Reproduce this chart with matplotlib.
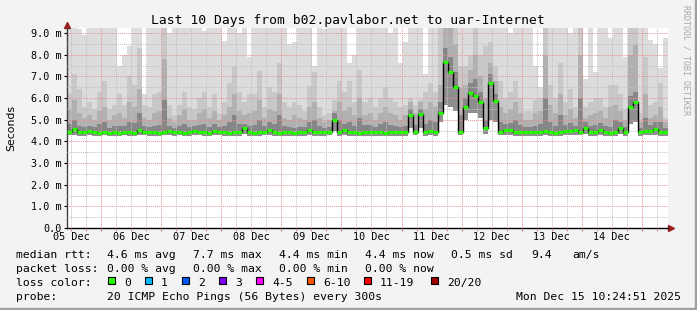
import numpy as np
import matplotlib
matplotlib.use("Agg")
import matplotlib.pyplot as plt
import matplotlib.transforms as mtransforms
from matplotlib.patches import Rectangle
from matplotlib.ticker import MultipleLocator, FuncFormatter

# ---- data (ms), one value per 2 h column, 05 Dec 10:24 -> 15 Dec 10:24 ----
med = [4.45, 4.58, 4.45, 4.42, 4.47, 4.42, 4.40, 4.45, 4.38, 4.42,
       4.40, 4.45, 4.42, 4.40, 4.52, 4.45, 4.42, 4.43, 4.40, 4.45,
       4.47, 4.42, 4.45, 4.40, 4.42, 4.48, 4.45, 4.42, 4.40, 4.47,
       4.45, 4.42, 4.40, 4.42, 4.42, 4.60, 4.42, 4.40, 4.42, 4.45,
       4.52, 4.42, 4.40, 4.42, 4.42, 4.38, 4.42, 4.42, 4.52, 4.42,
       4.42, 4.42, 4.45, 5.00, 4.42, 4.55, 4.42, 4.42, 4.40, 4.42,
       4.42, 4.42, 4.42, 4.40, 4.42, 4.42, 4.42, 4.42, 5.20, 4.45,
       5.25, 4.42, 4.48, 4.42, 5.30, 7.65, 7.20, 6.50, 4.45, 5.60,
       6.25, 6.10, 5.80, 4.60, 6.70, 5.85, 4.45, 4.55, 4.52, 4.42,
       4.42, 4.42, 4.42, 4.42, 4.42, 4.48, 4.42, 4.40, 4.42, 4.50,
       4.50, 4.55, 4.45, 4.60, 4.42, 4.42, 4.55, 4.42, 4.38, 4.42,
       4.60, 4.42, 5.60, 5.80, 4.42, 4.50, 4.50, 4.58, 4.42, 4.42]

low = [4.28, 4.30, 4.27, 4.26, 4.28, 4.27, 4.25, 4.28, 4.24, 4.27,
       4.26, 4.28, 4.27, 4.25, 4.30, 4.28, 4.27, 4.27, 4.25, 4.28,
       4.29, 4.27, 4.28, 4.25, 4.27, 4.30, 4.28, 4.27, 4.25, 4.29,
       4.28, 4.27, 4.25, 4.27, 4.27, 4.32, 4.27, 4.25, 4.27, 4.28,
       4.30, 4.27, 4.25, 4.27, 4.27, 4.24, 4.27, 4.27, 4.30, 4.27,
       4.27, 4.27, 4.28, 4.50, 4.27, 4.30, 4.27, 4.27, 4.25, 4.27,
       4.27, 4.27, 4.27, 4.25, 4.27, 4.27, 4.27, 4.27, 4.60, 4.28,
       4.60, 4.27, 4.29, 4.27, 4.90, 5.70, 5.60, 5.40, 4.30, 5.00,
       5.30, 5.30, 5.10, 4.35, 5.00, 4.90, 4.28, 4.30, 4.29, 4.27,
       4.27, 4.27, 4.27, 4.27, 4.27, 4.29, 4.27, 4.25, 4.27, 4.28,
       4.28, 4.30, 4.28, 4.32, 4.27, 4.27, 4.30, 4.27, 4.24, 4.27,
       4.32, 4.27, 4.80, 4.90, 4.27, 4.28, 4.28, 4.30, 4.27, 4.27]

hi1 = [4.80, 5.00, 4.70, 4.65, 4.70, 4.65, 4.80, 4.90, 4.60, 4.70,
       4.70, 4.70, 4.90, 4.85, 5.30, 4.70, 4.65, 4.70, 4.75, 5.90,
       4.70, 4.60, 4.70, 4.80, 4.65, 4.70, 4.75, 4.80, 4.65, 4.80,
       4.65, 4.70, 4.90, 5.20, 4.80, 4.80, 4.70, 4.75, 5.00, 4.70,
       4.90, 4.80, 5.20, 4.70, 4.65, 4.60, 4.65, 4.65, 4.90, 5.00,
       4.70, 4.60, 4.65, 5.30, 5.00, 4.80, 4.90, 4.70, 5.10, 4.75,
       4.75, 4.65, 4.80, 4.90, 4.75, 4.70, 4.65, 4.70, 5.50, 4.75,
       5.50, 4.80, 5.00, 4.90, 5.80, 8.30, 7.90, 7.20, 5.20, 6.00,
       6.70, 6.90, 6.30, 5.00, 7.10, 6.20, 4.90, 4.80, 4.85, 5.00,
       4.75, 4.65, 4.65, 4.70, 4.80, 6.00, 4.90, 4.70, 5.20, 4.75,
       4.85, 4.70, 6.00, 4.90, 4.70, 4.75, 4.85, 4.70, 4.65, 5.00,
       4.90, 4.65, 6.10, 6.30, 4.60, 5.10, 4.75, 4.90, 4.90, 4.60]

hi2 = [5.5, 5.9, 5.3, 5.1, 5.2, 5.0, 5.4, 5.6, 5.0, 5.2,
       5.3, 5.1, 5.8, 5.6, 6.4, 5.1, 5.0, 5.3, 5.4, 7.8,
       5.1, 4.9, 5.2, 5.5, 5.0, 5.0, 5.3, 5.5, 5.1, 5.4,
       5.0, 5.2, 5.6, 6.2, 5.4, 5.2, 5.3, 5.4, 5.9, 5.1,
       5.5, 5.4, 6.2, 5.1, 5.0, 5.2, 5.1, 5.0, 5.6, 5.8,
       5.1, 4.9, 5.0, 5.4, 5.8, 5.4, 5.6, 5.2, 6.0, 5.2,
       5.3, 5.0, 5.3, 5.6, 5.3, 5.2, 5.0, 5.2, 5.8, 5.3,
       5.8, 5.5, 5.8, 5.6, 6.6, 9.5, 9.5, 8.5, 6.5, 6.6,
       7.3, 8.0, 7.0, 6.0, 7.6, 6.8, 5.6, 5.3, 5.5, 5.8,
       5.3, 5.0, 5.0, 5.3, 5.4, 8.0, 5.7, 5.3, 6.2, 5.2,
       5.5, 5.1, 8.0, 5.1, 5.2, 5.3, 5.4, 5.1, 5.6, 5.7,
       5.4, 5.0, 8.0, 8.5, 4.9, 6.2, 5.1, 5.2, 5.6, 4.9]

hi3 = [6.2, 7.1, 6.4, 5.6, 5.8, 5.5, 6.3, 6.8, 5.5, 5.7,
       6.2, 5.7, 7.0, 6.6, 8.3, 5.7, 5.6, 6.2, 6.3, 9.5,
       5.7, 5.2, 5.7, 6.3, 5.6, 5.5, 6.0, 6.3, 5.6, 6.2,
       5.3, 5.8, 6.7, 7.5, 6.3, 5.8, 6.2, 6.2, 7.25, 5.6,
       6.5, 6.3, 7.6, 5.8, 5.6, 5.8, 5.7, 5.4, 6.55, 7.2,
       5.6, 5.2, 5.3, 5.9, 6.8, 6.3, 6.8, 5.8, 7.3, 5.8,
       6.0, 5.6, 6.0, 6.5, 6.0, 5.8, 5.6, 5.7, 6.0, 5.7,
       5.9, 6.3, 6.7, 6.3, 9.5, 9.5, 9.5, 9.5, 7.5, 7.5,
       8.0, 9.5, 8.0, 8.4, 8.6, 7.5, 6.8, 6.0, 6.3, 6.8,
       6.0, 5.4, 5.4, 5.9, 6.0, 9.5, 6.6, 6.0, 7.6, 5.8,
       6.4, 5.6, 9.5, 5.6, 5.8, 6.0, 6.0, 5.6, 6.6, 6.6,
       6.2, 5.5, 9.5, 9.5, 5.3, 7.9, 5.7, 5.8, 6.7, 5.1]

top = [9.5, 9.5, 9.2, 8.9, 9.5, 9.5, 9.5, 9.5, 9.5, 9.5,
       7.5, 8.0, 8.4, 9.5, 9.5, 6.2, 9.5, 9.5, 9.5, 9.5,
       9.0, 9.5, 9.5, 9.5, 9.5, 9.5, 9.5, 9.1, 9.5, 9.5,
       9.5, 8.65, 9.5, 9.5, 9.0, 9.5, 7.9, 9.5, 9.5, 9.5,
       9.5, 9.5, 9.5, 9.5, 8.5, 8.6, 9.5, 9.5, 9.5, 7.5,
       9.5, 9.2, 9.5, 9.5, 9.5, 9.5, 7.6, 8.0, 9.5, 9.5,
       9.5, 9.5, 9.5, 9.5, 9.0, 9.5, 7.6, 8.6, 9.5, 9.5,
       9.5, 7.1, 9.5, 9.5, 9.5, 9.5, 9.5, 9.5, 9.5, 9.5,
       9.5, 9.5, 9.5, 9.5, 9.5, 9.5, 9.5, 9.5, 9.0, 9.5,
       9.5, 9.5, 9.5, 7.5, 6.5, 9.5, 9.5, 9.5, 9.5, 9.5,
       9.0, 9.5, 9.5, 6.9, 9.5, 7.2, 9.5, 9.5, 8.8, 9.5,
       9.5, 7.9, 9.5, 9.5, 9.5, 9.5, 8.7, 8.5, 7.4, 8.8]

day_labels = ["05 Dec", "06 Dec", "07 Dec", "08 Dec", "09 Dec",
              "10 Dec", "11 Dec", "12 Dec", "13 Dec", "14 Dec"]
median_stats = ["4.6 ms avg", "7.7 ms max", "4.4 ms min", "4.4 ms now", "0.5 ms sd"]
loss_stats = ["0.00 % avg", "0.00 % max", "0.00 % min", "0.00 % now"]
loss_bins = ["0", "1", "2", "3", "4-5", "6-10", "11-19", "20/20"]
loss_colors = ["#26ff00", "#00b8ff", "#0059ff", "#7e00ff",
               "#ff00ff", "#ff5500", "#ff0000", "#a10000"]

W, H = 697, 310
MONO = "DejaVu Sans Mono"

def fx(px):
    return px / W

def fy(py):
    return 1 - py / H

def ext(a):
    return np.append(a, a[-1])

fig = plt.figure(figsize=(W / 100, H / 100), dpi=100, facecolor="#f3f3f3")
ax = fig.add_axes([fx(67), fy(228), 601 / W, 200 / H])
ax.set_facecolor("white")

start = 5 + (10 + 24 / 60 + 51 / 3600) / 24
xe = start + np.arange(len(med) + 1) / 12

# smoke
ax.fill_between(xe, ext(hi3), ext(top), step="post", color="#dcdcdc", lw=0)
ax.fill_between(xe, ext(hi2), ext(hi3), step="post", color="#c8c8c8", lw=0)
ax.fill_between(xe, ext(hi1), ext(hi2), step="post", color="#b0b0b0", lw=0)
ax.fill_between(xe, ext(med), ext(hi1), step="post", color="#868686", lw=0)
ax.fill_between(xe, ext(low), ext(med), step="post", color="#8e8e8e", lw=0)

# median line
ax.step(xe, ext(med), where="post", color="black", lw=1, zorder=4)
ax.hlines(med, xe[:-1], xe[1:], color=loss_colors[0], lw=2.3, zorder=5)

ax.set_xlim(start, start + 10)
ax.set_ylim(0, 9.24)

ax.xaxis.set_major_locator(MultipleLocator(1))
ax.xaxis.set_minor_locator(MultipleLocator(0.25))
ax.yaxis.set_major_locator(MultipleLocator(1))
ax.yaxis.set_minor_locator(MultipleLocator(0.5))
ax.set_axisbelow(False)
ax.grid(which="minor", color="#c0c0c0", linestyle=(0, (1, 1)), lw=0.7)
ax.grid(which="major", color="#e89090", linestyle=(0, (1, 1)), lw=0.7)

ax.yaxis.set_major_formatter(FuncFormatter(lambda v, p: "0.0" if v == 0 else "%.1f m" % v))
ax.tick_params(axis="x", which="both", labelbottom=False, length=2, color="#c08080")
ax.tick_params(axis="y", which="major", length=2, pad=2, labelsize=7.3)
ax.tick_params(axis="y", which="minor", length=0)
for lab in ax.get_yticklabels():
    lab.set_fontfamily(MONO)

for s in ["top", "right"]:
    ax.spines[s].set_visible(False)
ax.spines["bottom"].set_color("black")
ax.spines["left"].set_color("#404040")
ax.spines["bottom"].set_linewidth(1)
ax.spines["left"].set_linewidth(1)

sec = ax.secondary_xaxis("bottom")
sec.set_xticks(np.arange(5, 15) + 0.5, day_labels)
sec.tick_params(length=0, pad=3, labelsize=7.3)
sec.spines["bottom"].set_visible(False)
for lab in sec.get_xticklabels():
    lab.set_fontfamily(MONO)

# axis arrows
up = mtransforms.offset_copy(ax.transAxes, fig=fig, x=0, y=3, units="dots")
ax.plot([0], [1], marker="^", ms=4.5, color="#9c1f1f", transform=up, clip_on=False)
right = mtransforms.offset_copy(ax.transAxes, fig=fig, x=3, y=0, units="dots")
ax.plot([1], [0], marker=">", ms=4.5, color="#9c1f1f", transform=right, clip_on=False)

# texts
fig.text(fx(348), fy(24), "Last 10 Days from b02.pavlabor.net to uar-Internet",
         ha="center", va="baseline", fontsize=9.4, family=MONO)
fig.text(fx(11), fy(128), "Seconds", rotation=90, ha="center", va="center",
         fontsize=7.8, family="DejaVu Sans")
fig.text(fx(686), fy(5), "RRDTOOL / TOBI OETIKER", rotation=270, ha="center",
         va="top", fontsize=6, family=MONO, color="#a8a8a8")

LS = 8.2
stat_x = [107, 193, 279, 365, 451]
fig.text(fx(16), fy(258), "median rtt:", fontsize=LS, family=MONO, va="baseline")
for x, s in zip(stat_x, median_stats):
    fig.text(fx(x), fy(258), s, fontsize=LS, family=MONO, va="baseline")
fig.text(fx(531), fy(258), "9.4", fontsize=LS, family=MONO, va="baseline")
fig.text(fx(572), fy(258), "am/s", fontsize=LS, family=MONO, va="baseline")

fig.text(fx(16), fy(272), "packet loss:", fontsize=LS, family=MONO, va="baseline")
for x, s in zip(stat_x, loss_stats):
    fig.text(fx(x), fy(272), s, fontsize=LS, family=MONO, va="baseline")

fig.text(fx(16), fy(286), "loss color:", fontsize=LS, family=MONO, va="baseline")
box_x = [108, 145, 182, 219, 256, 307, 364, 431]
for bx, lab, col in zip(box_x, loss_bins, loss_colors):
    fig.patches.append(Rectangle((fx(bx), fy(284)), 7 / W, 7 / H, transform=fig.transFigure,
                                 facecolor=col, edgecolor="black", lw=0.8))
    fig.text(fx(bx + 16), fy(286), lab, fontsize=LS, family=MONO, va="baseline")

fig.text(fx(16), fy(300), "probe:", fontsize=LS, family=MONO, va="baseline")
fig.text(fx(107), fy(300), "20 ICMP Echo Pings (56 Bytes) every 300s",
         fontsize=LS, family=MONO, va="baseline")
fig.text(fx(681), fy(300), "Mon Dec 15 10:24:51 2025", ha="right",
         fontsize=LS, family=MONO, va="baseline")

# 3d frame edges
fig.patches.append(Rectangle((0, 0), 1, 2 / H, transform=fig.transFigure, color="#a0a0a0"))
fig.patches.append(Rectangle((1 - 2 / W, 0), 2 / W, 1, transform=fig.transFigure, color="#a0a0a0"))

fig.savefig("out.png", dpi=100, facecolor=fig.get_facecolor())
